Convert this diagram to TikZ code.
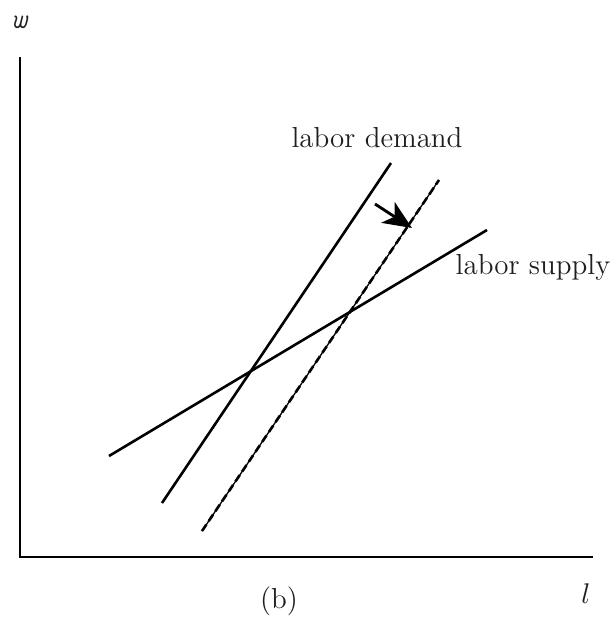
\documentclass[tikz,border=0pt]{standalone}
\usetikzlibrary{arrows.meta, positioning, calc}
\tikzset{
  curve/.style={line width=1pt},
  axis/.style={line width=1.1pt},
  shifted/.style={line width=0.5pt},
  shiftdash/.style={line width=1pt, dash pattern=on 3pt off 1.6pt},
  arr/.style={-{Stealth[length=11pt, width=9.5pt, inset=3pt]}, line width=1.1pt},
  lbl/.style={font=\fontsize{11.15pt}{13pt}\selectfont, text=black!88, inner sep=0pt},
}

\begin{document}
\begin{tikzpicture}[x=0.385pt, y=-0.385pt]
    \useasboundingbox (0,0) rectangle (615,621);
    \coordinate (o) at (20,557);
    \coordinate (ytop) at (20,57);
    \coordinate (xend) at (593,557);
    \draw[axis] (ytop) -- (o) -- (xend);
    \node[lbl] (wlab) at (20,22) {\texttt{\itshape w}};
    \node[lbl] (llab) at (586,594) {$l$};
    \node[lbl] (blab) at (279,601) {(b)};

    % demand before and after the shift
    \coordinate (d1) at (162,503);
    \coordinate (d2) at (391,163);
    \coordinate (e1) at (202,531);
    \coordinate (e2) at (439,180);
    \draw[curve] (d1) -- (d2);
    \draw[shifted] (e1) -- (e2);
    \draw[shiftdash] (e1) -- (e2);

    % supply
    \coordinate (s1) at (109,456);
    \coordinate (s2) at (487,230);
    \draw[curve] (s1) -- (s2);

    \node[lbl] (dlab) at (377,138) {labor demand};
    \node[lbl] (slab) at (533,267) {labor supply};

    \coordinate (a1) at (375,204);
    \coordinate (a2) at (412,228);
    \draw[arr] (a1) -- (a2);
  \end{tikzpicture}
\end{document}
